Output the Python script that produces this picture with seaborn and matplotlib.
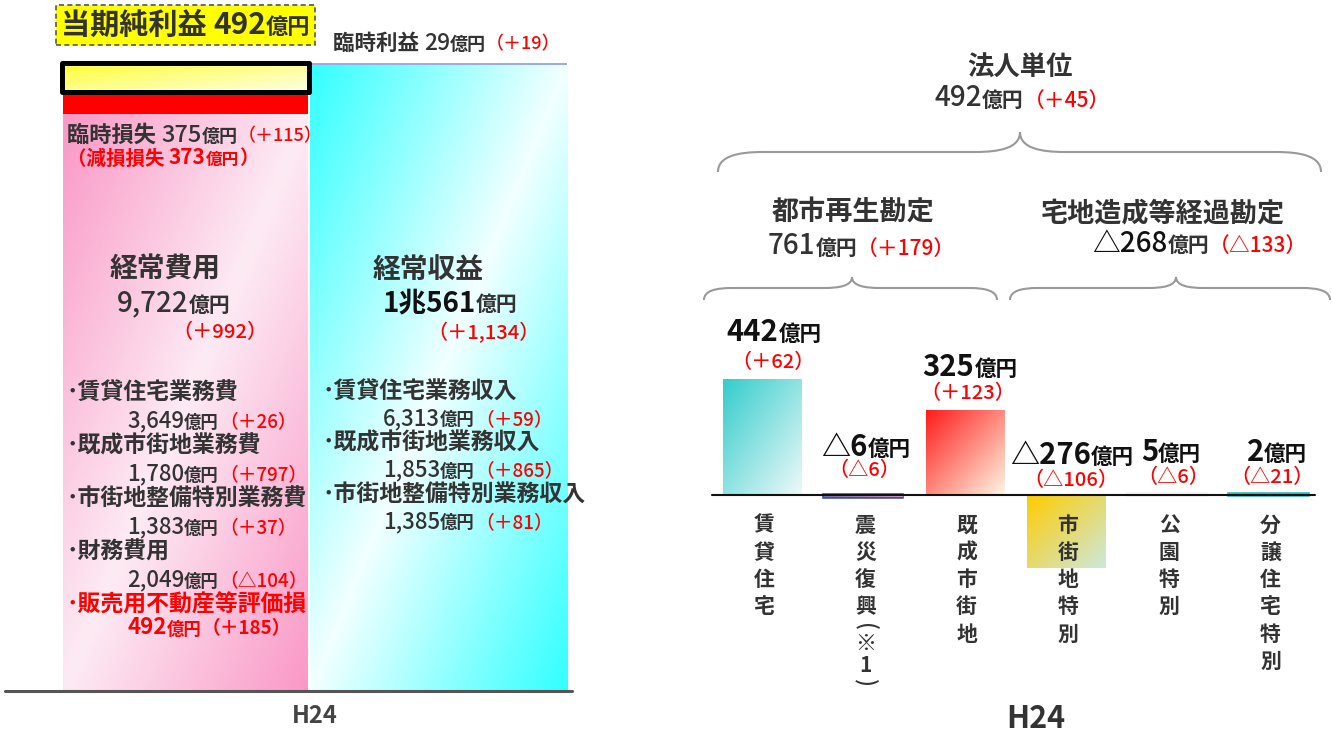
import numpy as np
import matplotlib
matplotlib.use('Agg')
import matplotlib.pyplot as plt
import matplotlib.colors as mcolors
import matplotlib.transforms as mtransforms
from matplotlib.offsetbox import TextArea, HPacker, AnnotationBbox
from matplotlib.path import Path
from matplotlib.patches import PathPatch
import seaborn as sns

# 左：損益の内訳（億円）
cost_names = ['経常費用', '臨時損失', '当期純利益']
cost_values = [9722, 375, 492]
income_names = ['経常収益', '臨時利益']
income_values = [10561, 29]

cost_items = ['賃貸住宅業務費', '既成市街地業務費', '市街地整備特別業務費', '財務費用', '販売用不動産等評価損']
cost_item_values = ['3,649', '1,780', '1,383', '2,049', '492']
cost_item_diffs = ['＋26', '＋797', '＋37', '△104', '＋185']
income_items = ['賃貸住宅業務収入', '既成市街地業務収入', '市街地整備特別業務収入']
income_item_values = ['6,313', '1,853', '1,385']
income_item_diffs = ['＋59', '＋865', '＋81']

# 右：勘定別の当期純利益（億円）
seg_names = ['賃貸住宅', '震災復興（※1）', '既成市街地', '市街地特別', '公園特別', '分譲住宅特別']
seg_values = [442, -6, 325, -276, 5, 2]
seg_diffs = ['＋62', '△6', '＋123', '△106', '△6', '△21']
seg_colors = [('#33cccc', '#eef9f9'), ('#4050a0', '#eaa6c6'), ('#ff1a1a', '#fff7e2'),
              ('#ffcc00', '#cde8dc'), ('#f4f4f4', '#f4f4f4'), ('#33bbbb', '#44cccc')]

W, H = 1332, 734
DARK = '#333333'
RED = '#ff0000'

sns.set_theme(style='white')
plt.rcParams['font.family'] = ['Noto Sans CJK JP', 'DejaVu Sans']

fig = plt.figure(figsize=(W / 100, H / 100), dpi=100)


def fmt(v):
    return '△' + str(-v) if v < 0 else str(v)


def row(x, y, parts, ha=0.0, **kw):
    # 1行の中で大きさ・色の違う文字を並べる（x, y は画像のピクセル位置）
    kids = [TextArea(t, textprops=dict(fontsize=s, color=c, fontweight=w)) for t, s, c, w in parts]
    pack = HPacker(children=kids, align='baseline', pad=0, sep=0)
    ab = AnnotationBbox(pack, (x, H - y), xycoords='figure pixels',
                        box_alignment=(ha, 0.5), pad=kw.pop('pad', 0), frameon=kw.pop('frameon', False), **kw)
    ab.set_zorder(6)
    fig.add_artist(ab)
    return ab


def gradient(ax, patch, start, end, mirror=False, extent=None):
    x0, y0 = patch.get_x(), patch.get_y()
    w, h = patch.get_width(), patch.get_height()
    if extent is None:
        extent = (x0, x0 + w, min(y0, y0 + h), max(y0, y0 + h))
    gx, gy = np.meshgrid(np.linspace(0, 1, 80), np.linspace(0, 1, 160))
    if mirror:
        t = np.abs(gx + gy - 1)  # 左上と右下が濃い
    else:
        t = (gx + gy) / 2        # 左上→右下
    a = np.array(mcolors.to_rgb(start))
    b = np.array(mcolors.to_rgb(end))
    rgb = a + (b - a) * t[..., None]
    im = ax.imshow(rgb, extent=extent, origin='upper', aspect='auto',
                   interpolation='bilinear', zorder=patch.get_zorder() + 0.05)
    im.set_clip_path(patch)


def brace(x0, x1, xm, y_end, y_mid, y_tip, r):
    k = 0.45
    pts = [(x0, y_end), (x0, y_mid + (y_end - y_mid) * 0.2), (x0 + r * k, y_mid), (x0 + r, y_mid),
           (xm - r, y_mid),
           (xm - r * k, y_mid), (xm, y_mid - (y_mid - y_tip) * 0.2), (xm, y_tip),
           (xm, y_mid - (y_mid - y_tip) * 0.2), (xm + r * k, y_mid), (xm + r, y_mid),
           (x1 - r, y_mid),
           (x1 - r * k, y_mid), (x1, y_mid + (y_end - y_mid) * 0.2), (x1, y_end)]
    codes = [Path.MOVETO] + [Path.CURVE4] * 3 + [Path.LINETO] + [Path.CURVE4] * 6 + [Path.LINETO] + [Path.CURVE4] * 3
    verts = [(px / W, 1 - py / H) for px, py in pts]
    fig.add_artist(PathPatch(Path(verts, codes), fill=False, edgecolor='#999999', lw=1.5,
                             transform=fig.transFigure))


# ---------------- 左のグラフ ----------------
ax_l = fig.add_axes([0, (H - 691) / H, 600 / W, 691 / H])
ax_l.patch.set_alpha(0)
cost_bottoms = np.concatenate([[0], np.cumsum(cost_values)[:-1]])
income_bottoms = np.concatenate([[0], np.cumsum(income_values)[:-1]])

cost_bars = ax_l.bar([0] * 3, cost_values, bottom=cost_bottoms, width=[0.968, 0.968, 0.98],
                     color=['#fa9bc8', '#ff0000', '#ffff66'], linewidth=0)
income_bars = ax_l.bar([1] * 2, income_values, bottom=income_bottoms, width=1.016,
                       color=['#33ffff', '#99aaee'], linewidth=0)

gradient(ax_l, cost_bars[0], '#fdebf4', '#fa98c6', mirror=True)
gradient(ax_l, cost_bars[2], '#ffff33', '#ffffe8')
gradient(ax_l, income_bars[0], '#f2ffff', '#33ffff', mirror=True)
ax_l.bar([0], [cost_values[2]], bottom=[cost_bottoms[2]], width=0.98, fill=False,
         edgecolor='black', linewidth=3.6, joinstyle='round', zorder=2)

ax_l.axhline(0, xmin=5 / 600, xmax=572 / 600, color='#555555', lw=2.2, clip_on=False, zorder=3)
ax_l.set_xlim(-185.5 / 253, (600 - 185.5) / 253)
ax_l.set_ylim(0, 691 / 0.0593)
ax_l.axis('off')

row(185.5, 25, [('当期純利益 ', 21, DARK, 'bold'), (str(cost_values[2]), 21.5, DARK, 'bold'), ('億円', 16, DARK, 'bold')],
    ha=0.5, frameon=True, pad=0.5,
    bboxprops=dict(facecolor='#ffff00', edgecolor='#555555', linestyle=(0, (3, 2)), linewidth=1.2, boxstyle='square'))
row(333, 43, [(income_names[1] + ' ', 15.5, DARK, 'bold'), (str(income_values[1]), 16.5, DARK, 'medium'),
              ('億円', 13, DARK, 'bold'), ('（＋19）', 13, RED, 'medium')])
row(67, 135, [(cost_names[1] + ' ', 16, DARK, 'bold'), (str(cost_values[1]), 17, DARK, 'medium'),
              ('億円', 13, DARK, 'bold'), ('（＋115）', 13, RED, 'medium')])
row(67, 158, [('（減損損失 ', 14, RED, 'bold'), ('373', 15, RED, 'bold'), ('億円', 12, RED, 'bold'), ('）', 14, RED, 'bold')])

row(165, 270, [(cost_names[0], 20, DARK, 'bold')], ha=0.5)
row(117, 303, [('{:,}'.format(cost_values[0]), 20, DARK, 'medium'), ('億円', 15, DARK, 'bold')])
row(172, 332, [('（＋992）', 14.5, RED, 'medium')])
row(428, 270, [(income_names[0], 20, DARK, 'bold')], ha=0.5)
row(383, 303, [('1兆561', 20, '#111111', 'bold'), ('億円', 15, DARK, 'bold')])
row(427, 332, [('（＋1,134）', 14.5, RED, 'medium')])

for i, name in enumerate(cost_items):
    c = RED if i == len(cost_items) - 1 else DARK
    wv = 'bold' if c == RED else 'medium'
    y = 393 + 53 * i
    row(67, y, [('･' + name, 16.5, c, 'bold')])
    row(127, y + 28 - (5 if c == RED else 0),
        [(cost_item_values[i], 16, c, wv), ('億円', 12.5, c, 'bold'), ('（' + cost_item_diffs[i] + '）', 13.5, RED, wv if c == RED else 'medium')])

for i, name in enumerate(income_items):
    y = 392 + 51.5 * i
    row(323, y, [('･' + name, 16.5, DARK, 'bold')])
    row(383, y + 26.5, [(income_item_values[i], 16, DARK, 'medium'), ('億円', 12.5, DARK, 'bold'),
                        ('（' + income_item_diffs[i] + '）', 13.5, RED, 'medium')])

fig.text(315 / W, 1 - 716 / H, 'H24', fontsize=17, fontweight='bold', color='#444444', ha='center', va='center')

# ---------------- 右のグラフ ----------------
ax_r = fig.add_axes([700 / W, 0, 632 / W, 1])
ax_r.patch.set_alpha(0)
sns.barplot(x=seg_names, y=seg_values, hue=seg_names, palette=dict(zip(seg_names, [c[0] for c in seg_colors])),
            legend=False, width=0.77, saturation=1, linewidth=0, errorbar=None, ax=ax_r)
for patch, v, (c0, c1) in zip(ax_r.patches, seg_values, seg_colors):
    if abs(v) < 10:
        patch.set_edgecolor(c0)
        patch.set_linewidth(2.6)
    gradient(ax_r, patch, c0, c1)

ax_r.axhline(0, xmin=12 / 632, xmax=615 / 632, color='#111111', lw=1.5, zorder=5)
ax_r.set_xlim(-62 / 101.3, 570 / 101.3)
ax_r.set_ylim(-239 / 0.263, 495 / 0.263)
ax_r.axis('off')

# 各勘定の値ラベル（画像上の位置）
label_pos = [(774, 332, 773, 362), (866, 447, 864, 470), (970, 367, 968, 393),
             (1072, 455, 1071, 480), (1171, 452, 1173, 477), (1277, 452, 1272, 477)]
for v, d, (xa, ya, xb, yb) in zip(seg_values, seg_diffs, label_pos):
    row(xa, ya, [(fmt(v), 21, '#111111', 'bold'), ('億円', 15.5, '#111111', 'bold')], ha=0.5)
    row(xb, yb, [('（' + d + '）', 14.5, RED, 'medium')], ha=0.5)

# 縦書きのカテゴリ名
vt = mtransforms.blended_transform_factory(ax_r.transData, fig.transFigure)


def adv(ch):
    if ch in '（）':
        return 12
    return 27.3 if ord(ch) >= 0x3000 else 22


for i, name in enumerate(seg_names):
    y = 525
    prev = None
    for ch in name:
        if prev is not None:
            y += (adv(prev) + adv(ch)) / 2
        prev = ch
        if ch in '（）':
            ax_r.text(i + 0.02, 1 - y / H, '(' if ch == '（' else ')', transform=vt, rotation=-90, fontsize=16,
                      fontweight='medium', color=DARK, ha='center', va='center')
        else:
            ax_r.text(i + 0.02, 1 - y / H, ch, transform=vt, fontsize=15, fontweight='bold',
                      color=DARK, ha='center', va='center')

row(1020, 68, [('法人単位', 19, DARK, 'bold')], ha=0.5)
row(1022, 98, [('492', 20, DARK, 'medium'), ('億円', 15, DARK, 'bold'), ('（＋45）', 15, RED, 'medium')], ha=0.5)
row(853, 213, [('都市再生勘定', 19.5, DARK, 'bold')], ha=0.5)
row(768, 246, [('761', 20, DARK, 'medium'), ('億円', 15, DARK, 'bold'), ('（＋179）', 15, RED, 'medium')])
row(1163, 213, [('宅地造成等経過勘定', 19.5, DARK, 'bold')], ha=0.5)
row(1092, 243, [('△268', 20, '#111111', 'medium'), ('億円', 15, DARK, 'bold'), ('（△133）', 15, RED, 'medium')])

brace(718, 1321, 1020, 172, 152, 132, 45)
brace(704, 997, 852, 300, 288, 277, 28)
brace(1010, 1330, 1176, 300, 288, 277, 28)

fig.text(1036 / W, 1 - 719 / H, 'H24', fontsize=22, fontweight='bold', color=DARK, ha='center', va='center')

fig.savefig('out.png', dpi=100)
